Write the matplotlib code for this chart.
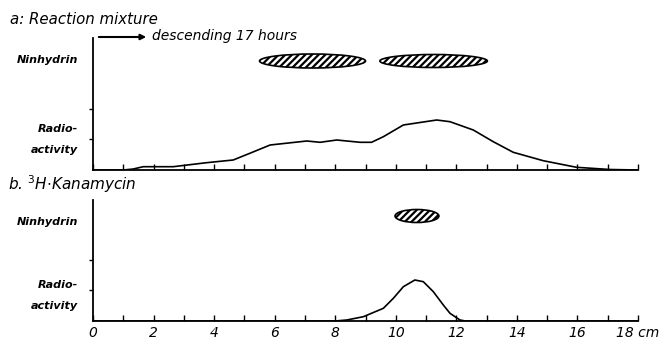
import matplotlib.pyplot as plt
from matplotlib.patches import Ellipse

# distance from origin (cm) and radioactivity (arbitrary units)
pos_a = [0, 1.0, 1.33, 1.66, 2.65, 3.75, 4.63, 5.18, 5.85, 7.06, 7.5, 8.05, 8.82,
         9.2, 9.59, 10.25, 11.35, 11.79, 12.56, 13.22, 13.88, 14.87, 15.97, 17.07, 18]
radio_a = [0, 0, 1, 3.3, 3.3, 7.3, 10, 16.7, 25, 29, 27.7, 30, 27.7,
           27.7, 33.3, 45, 50, 48.3, 40, 28.3, 17.7, 9.3, 2.7, 0.5, 0]

pos_b = [0, 8, 8.38, 8.93, 9.59, 9.92, 10.25, 10.63, 10.91, 11.24, 11.57, 11.79, 12.12, 12.3, 18]
radio_b = [0, 0, 1, 4.3, 12.7, 22.7, 34.3, 41, 39.3, 29.3, 16, 7.7, 1, 0, 0]

# ninhydrin spots: (centre cm, width cm, height)
spots_a = [(7.25, 3.5, 14), (11.25, 3.55, 13)]
spots_b = [(10.7, 1.45, 13)]

xticks = list(range(0, 19))
xlabels = ["0", "", "2", "", "4", "", "6", "", "8", "", "10", "", "12", "", "14", "", "16", "", "18 cm"]

plt.rcParams['font.family'] = 'DejaVu Sans'
plt.rcParams['hatch.linewidth'] = 1.6
fig = plt.figure(figsize=(6.69, 3.39), dpi=100)
W, H = 669, 339
x0, x1 = 93, 638
ax_a = fig.add_axes([x0 / W, 1 - 170 / H, (x1 - x0) / W, 132 / H])
ax_b = fig.add_axes([x0 / W, 1 - 321 / H, (x1 - x0) / W, 121 / H])


def panel(ax, pos, radio, spots, ytop, spot_y, show_labels):
    ax.plot(pos, radio, color='black', lw=1.2)
    for c, w, h in spots:
        ax.add_patch(Ellipse((c, spot_y), w, h, facecolor='white',
                             edgecolor='black', hatch='/////', lw=1.2))
    ax.set_xlim(0, 18)
    ax.set_ylim(0, ytop)
    for s in ['top', 'right']:
        ax.spines[s].set_visible(False)
    ax.spines['left'].set_linewidth(1.3)
    ax.spines['bottom'].set_linewidth(1.3)
    ax.set_xticks(xticks)
    ax.tick_params(axis='x', direction='in', length=4, width=1)
    if show_labels:
        ax.set_xticklabels(xlabels, fontsize=10, style='italic')
    else:
        ax.set_xticklabels([])
    ax.set_yticks([31, 61])
    ax.set_yticklabels([])
    ax.tick_params(axis='y', direction='out', length=3, width=1)


panel(ax_a, pos_a, radio_a, spots_a, 132, 109, False)
panel(ax_b, pos_b, radio_b, spots_b, 121, 105, True)

lab = dict(fontsize=8, style='italic', weight='bold', ha='right', va='center')
fig.text(78 / W, 1 - 60 / H, "Ninhydrin", **lab)
fig.text(78 / W, 1 - 129 / H, "Radio-", **lab)
fig.text(78 / W, 1 - 150 / H, "activity", **lab)
fig.text(78 / W, 1 - 222 / H, "Ninhydrin", **lab)
fig.text(78 / W, 1 - 285 / H, "Radio-", **lab)
fig.text(78 / W, 1 - 306 / H, "activity", **lab)

fig.text(10 / W, 1 - 19 / H, "a: Reaction mixture", fontsize=10.8, style='italic', va='center')
fig.text(8 / W, 1 - 184 / H, "b. $^{3}$H$\\cdot$Kanamycin", fontsize=11, style='italic', va='center')

ax_a.annotate("", xy=(1.85, 133), xytext=(0.1, 133),
              arrowprops=dict(arrowstyle='-|>', color='black', lw=1.5, mutation_scale=8),
              annotation_clip=False)
ax_a.text(1.95, 134, "descending 17 hours", fontsize=10, style='italic', va='center', clip_on=False)

fig.savefig("out.png", dpi=100)
